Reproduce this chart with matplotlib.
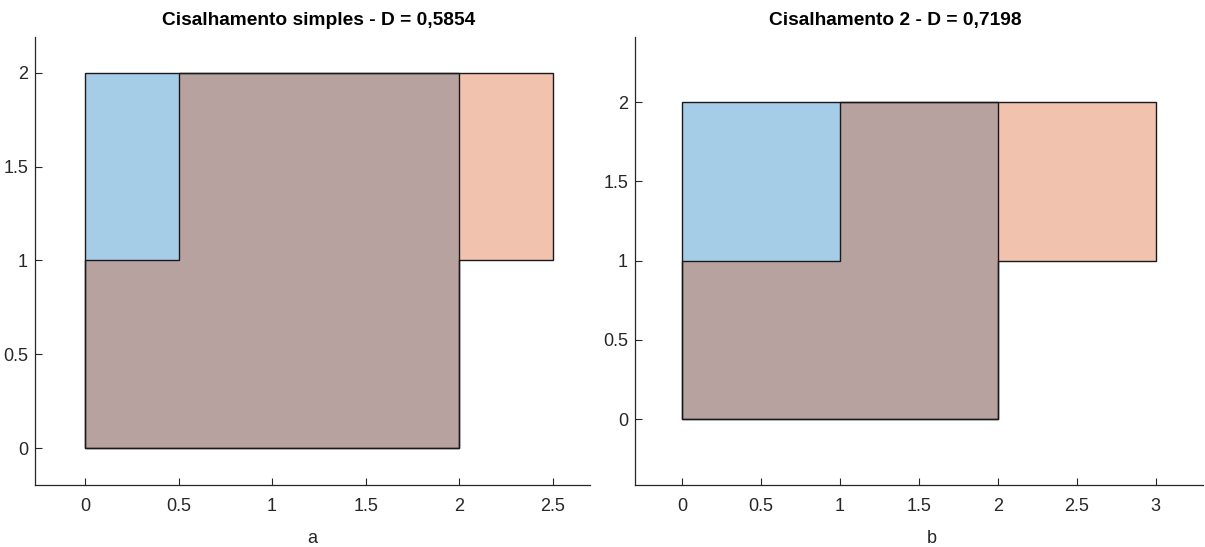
import matplotlib.pyplot as plt
from matplotlib.patches import Polygon

plt.rcParams['font.family'] = ['Liberation Sans', 'DejaVu Sans']

# -------------------------------------------------------------
# Dados: quadrado original e figuras após o cisalhamento
# -------------------------------------------------------------
quad_x = [0, 2, 2, 0]
quad_y = [0, 0, 2, 2]

cis1_x = [0, 2, 2, 2.5, 2.5, 0.5, 0.5, 0]
cis1_y = [0, 0, 1, 1, 2, 2, 1, 1]

cis2_x = [0, 2, 2, 3, 3, 1, 1, 0]
cis2_y = [0, 0, 1, 1, 2, 2, 1, 1]

titulo1 = "Cisalhamento simples - D = 0,5854"
titulo2 = "Cisalhamento 2 - D = 0,7198"

ticks1_x = [0, 0.5, 1, 1.5, 2, 2.5]
ticks2_x = [0, 0.5, 1, 1.5, 2, 2.5, 3]
ticks_y = [0, 0.5, 1, 1.5, 2]

azul = (0, 0.447, 0.741)
laranja = (0.85, 0.325, 0.098)
cinza = "#262626"

fig = plt.figure(figsize=(12.05, 5.47), dpi=100)
ax1 = fig.add_axes([0.029, 0.1133, 0.4606, 0.819])
ax2 = fig.add_axes([0.527, 0.1133, 0.4714, 0.819])


def desenha(ax, fx, fy, titulo, tx, xt, xlim, ylim, rotulo, rx):
    ax.add_patch(Polygon(list(zip(quad_x, quad_y)), closed=True,
                         facecolor=azul, alpha=0.35, edgecolor="none"))
    ax.add_patch(Polygon(list(zip(fx, fy)), closed=True,
                         facecolor=laranja, alpha=0.35, edgecolor="none"))
    ax.add_patch(Polygon(list(zip(quad_x, quad_y)), closed=True,
                         fill=False, edgecolor="#1a1a1a", linewidth=1))
    ax.add_patch(Polygon(list(zip(fx, fy)), closed=True,
                         fill=False, edgecolor="#1a1a1a", linewidth=1))
    ax.set_xlim(xlim)
    ax.set_ylim(ylim)
    ax.set_xticks(xt)
    ax.set_xticklabels([f"{v:g}" for v in xt])
    ax.set_yticks(ticks_y)
    ax.set_yticklabels([f"{v:g}" for v in ticks_y])
    for s in ["top", "right"]:
        ax.spines[s].set_visible(False)
    for s in ["left", "bottom"]:
        ax.spines[s].set_color(cinza)
        ax.spines[s].set_linewidth(0.9)
    ax.tick_params(direction="in", length=5, width=0.8, color=cinza,
                   labelcolor=cinza, labelsize=13)
    ax.tick_params(axis="x", pad=9)
    ax.tick_params(axis="y", pad=5)
    ax.set_title(titulo, fontsize=13.8, fontweight="bold", pad=9, x=tx)
    ax.set_xlabel(rotulo, fontsize=13, color=cinza)
    ax.xaxis.set_label_coords(rx, -0.1)


desenha(ax1, cis1_x, cis1_y, titulo1, 0.512, ticks1_x,
        (-0.267, 2.698), (-0.197, 2.19), "a", 0.5)
desenha(ax2, cis2_x, cis2_y, titulo2, 0.458, ticks2_x,
        (-0.297, 3.30), (-0.416, 2.41), "b", 0.523)

plt.savefig("out.png", dpi=100)
